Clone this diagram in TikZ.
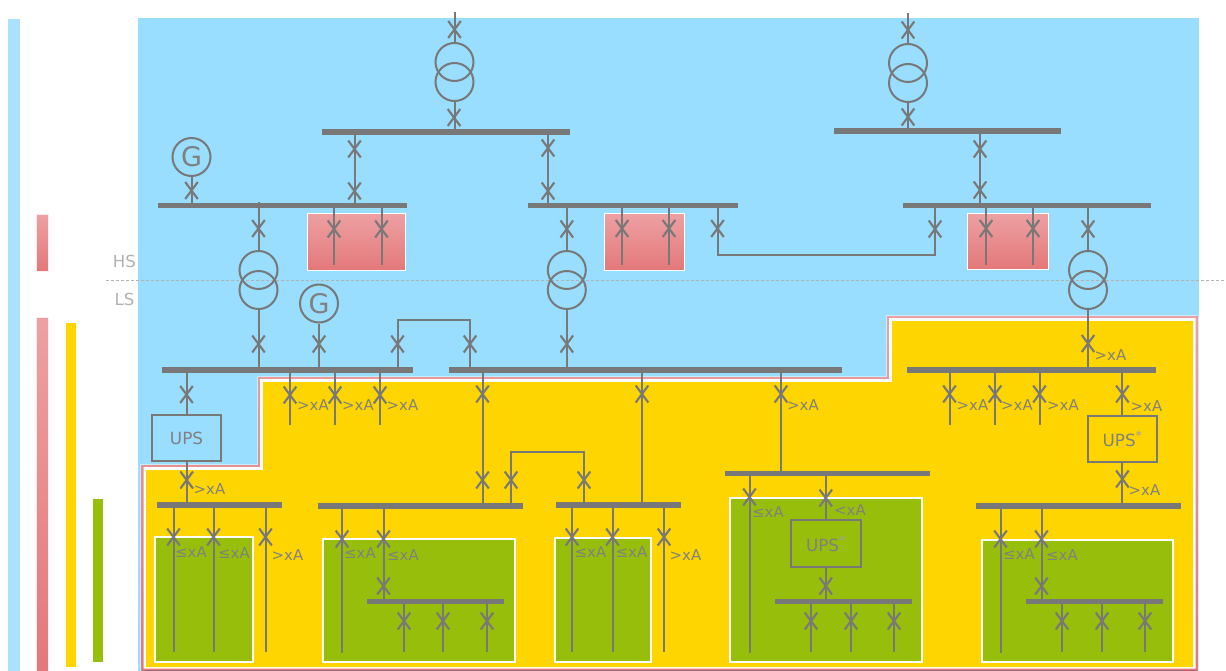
\documentclass[tikz,border=0pt]{standalone}
\usepackage{fontspec}
\setmainfont{DejaVu Sans}
\definecolor{skyc}{HTML}{99DDFF}
\definecolor{skybar}{HTML}{A8E2FF}
\definecolor{redt}{HTML}{EDA0A2}
\definecolor{redb}{HTML}{E4787A}
\definecolor{yell}{HTML}{FFD500}
\definecolor{gren}{HTML}{98BE0C}
\definecolor{wirec}{HTML}{787878}
\definecolor{txtc}{HTML}{808080}
\newcounter{labn}
\tikzset{
  wire/.style={draw=wirec,line width=2pt,line cap=butt},
  brkline/.style={draw=wirec,line width=2.1pt},
  bus/.style={fill=wirec,draw=none,inner sep=0pt,minimum height=5.5pt},
  trafo/.style={circle,draw=wirec,line width=2pt,minimum size=38pt,inner sep=0pt},
  gen/.style={circle,draw=wirec,line width=2pt,minimum size=38pt,inner sep=0pt,text=txtc,font=\fontsize{27}{27}\selectfont},
  upsbox/.style={rectangle,draw=wirec,line width=2pt,inner sep=0pt,text=txtc,font=\fontsize{16.8}{18}\selectfont},
  lbl/.style={anchor=west,inner sep=0pt,text=txtc,font=\fontsize{14.9}{16}\selectfont},
  side/.style={anchor=center,inner sep=0pt,text=black!30,font=\fontsize{16.6}{18}\selectfont},
  legend/.style={draw=red!8,line width=.5pt},
  greenbox/.style={fill=gren,draw=white,line width=2.2pt},
  redbox/.style={top color=redt,bottom color=redb,draw=white,line width=1pt}
}
% breaker symbol
\newcommand{\brk}[2]{\draw[brkline] (#1-6.3,#2-8.5) -- (#1+6.3,#2+8.5) (#1+6.3,#2-8.5) -- (#1-6.3,#2+8.5);}
% vertical wire at x between two named points
\newcommand{\vw}[3]{\draw[wire] (#1,0 |- #2) -- (#1,0 |- #3);}
\newcommand{\lab}[3]{\stepcounter{labn}\node[lbl] (lab\arabic{labn}) at (#1,#2) {#3};}
\newcommand{\busbar}[4]{\node[bus,minimum width=#3-#2] (#1) at ({(#2+#3)/2},#4) {};}
\newcommand{\upsstar}{UPS\raisebox{.35em}{\fontsize{13}{13}\selectfont\textcolor{txtc!75}{*}}}
\begin{document}
\begin{tikzpicture}[x=1pt,y=-1pt]
\useasboundingbox (0,0) rectangle (1226,671);
% backgrounds
\fill[skyc] (138,18) rectangle (1199,671);
\fill[white,opacity=.45] (140,464) -- (257,464) -- (257,376) -- (886,376) -- (886,315) -- (1199,315) -- (1199,671) -- (140,671) -- cycle;
\fill[top color=redt,bottom color=redb] (141.5,465) -- (258,465) -- (258,377) -- (887,377) -- (887,316) -- (1197.5,316) -- (1197.5,670.5) -- (141.5,670.5) -- cycle;
\fill[white] (143.5,467) -- (260,467) -- (260,379) -- (889,379) -- (889,318) -- (1195.5,318) -- (1195.5,668.5) -- (143.5,668.5) -- cycle;
\fill[yell] (146,470) -- (263,470) -- (263,382) -- (892,382) -- (892,321) -- (1193,321) -- (1193,667) -- (146,667) -- cycle;
% legend bars
\fill[skybar] (8,19) rectangle (20,671);
\path[legend,top color=redt,bottom color=redb] (36,214.5) rectangle (48,271);
\path[legend,top color=redt,bottom color=redb] (36,317) rectangle (48,671);
\fill[yell] (65.5,323) rectangle (75.5,667);
\fill[gren] (93,499) rectangle (103,662);
% protected zones
\path[redbox] (307,213.5) rectangle (405.5,270.5);
\path[redbox] (604,213.5) rectangle (684.5,270.5);
\path[redbox] (967.5,213.5) rectangle (1048.5,269.5);
\path[greenbox] (155,537) rectangle (252.7,662);
\path[greenbox] (323,539) rectangle (515,662);
\path[greenbox] (555,538) rectangle (651,662);
\path[greenbox] (730,498) rectangle (922,662);
\path[greenbox] (982,540) rectangle (1173,662);
% voltage boundary
\coordinate (dashL) at (106,280.5);
\coordinate (dashR) at (1226,280.5);
\draw[draw=black!30,line width=.6pt,dash pattern=on 3pt off 2pt] (dashL) -- (dashR);
\node[side] (hs) at (124.5,261) {HS};
\node[side] (ls) at (124.5,299) {LS};
% bars
\busbar{Ba}{322}{570}{132}
\busbar{Bb}{834}{1061}{131}
\busbar{Bc}{158}{407}{205.5}
\busbar{Bd}{528}{738}{205.5}
\busbar{Be}{903}{1151}{205.5}
\busbar{Bf}{162}{413}{370}
\busbar{Bg}{449}{842}{370}
\busbar{Bh}{907}{1156}{370}
\busbar{Bi}{157}{282}{505}
\busbar{Bj}{318}{523}{506}
\busbar{Bk}{556}{681}{505}
\busbar{Bl}{725}{930}{473.5}
\busbar{Bm}{976}{1181}{506}
\busbar{Bn}{367}{504}{601.5}
\busbar{Bo}{775}{912}{601.5}
\busbar{Bp}{1026}{1163}{601.5}
% free ends
\coordinate (topA) at (454.5,12);
\coordinate (topB) at (908,13);
\coordinate (endR) at (0,265);
\coordinate (endH) at (0,425);
\coordinate (endG) at (0,651.5);
\coordinate (endL) at (0,653);
\coordinate (busRise) at (0,202);
% transformers
\node[trafo] (Ta) at (454.5,62) {};
\node[trafo] (Ta2) at (454.5,82) {};
\node[trafo] (Tb) at (908,63) {};
\node[trafo] (Tb2) at (908,83) {};
\node[trafo] (Tc) at (258.5,270) {};
\node[trafo] (Tc2) at (258.5,290) {};
\node[trafo] (Td) at (566.8,270) {};
\node[trafo] (Td2) at (566.8,290) {};
\node[trafo] (Te) at (1088,270) {};
\node[trafo] (Te2) at (1088,290) {};
% generators
\node[gen] (Ga) at (191.5,157) {G};
\node[gen] (Gb) at (319,303.5) {G};
% UPS
\node[upsbox,minimum width=69.5pt,minimum height=46.5pt] (Ua) at (186.5,438) {UPS};
\node[upsbox,minimum width=69.5pt,minimum height=46.5pt] (Ub) at (825.8,543.7) {\upsstar};
\node[upsbox,minimum width=69.5pt,minimum height=46.5pt] (Uc) at (1122.4,439) {\upsstar};
% top section
\draw[wire] (topA) -- (Ta.north); \brk{454.5}{29.5}
\draw[wire] (Ta2.south) -- (Ta2.south |- Ba); \brk{454}{117.5}
\draw[wire] (topB) -- (Tb.north); \brk{908}{30}
\draw[wire] (Tb2.south) -- (Tb2.south |- Bb); \brk{908}{117}
\vw{354.5}{Ba}{Bc} \brk{354.5}{149} \brk{354.5}{191}
\vw{548}{Ba}{Bd} \brk{548}{148} \brk{548}{191}
\vw{980}{Bb}{Be} \brk{980}{149} \brk{980}{190}
\draw[wire] (Ga.south) -- (Ga.south |- Bc); \brk{191.5}{190.5}
% HS feeders
\draw[wire] (Tc.north) -- (Tc.north |- busRise); \brk{258.5}{228.5}
\vw{334}{Bc}{endR} \brk{334}{229}
\vw{381.5}{Bc}{endR} \brk{381.5}{229}
\draw[wire] (Td.north) -- (Td.north |- Bd); \brk{566.8}{229}
\vw{622}{Bd}{endR} \brk{622}{228.5}
\vw{669}{Bd}{endR} \brk{669}{228.5}
\draw[wire] (717.5,0 |- Bd) |- (935,255) -- (935,0 |- Be); \brk{717.5}{228.5} \brk{935}{229}
\vw{986}{Be}{endR} \brk{986}{228.5}
\vw{1033}{Be}{endR} \brk{1033}{228.5}
\draw[wire] (Te.north) -- (Te.north |- Be); \brk{1088}{229}
% LS incomers
\draw[wire] (Tc2.south) -- (Tc2.south |- Bf); \brk{258.5}{344}
\draw[wire] (Td2.south) -- (Td2.south |- Bg); \brk{566.8}{344}
\draw[wire] (Te2.south) -- (Te2.south |- Bh); \brk{1088}{343.5}
\draw[wire] (Gb.south) -- (Gb.south |- Bf); \brk{319}{344}
\draw[wire] (397.5,0 |- Bf) |- (470,319.5) -- (470,0 |- Bg); \brk{397.5}{344} \brk{470}{344}
\lab{1094.5}{355.5}{>xA}
% LS feeders, left bar
\draw[wire] (Ua.north |- Bf) -- (Ua.north); \brk{186.5}{394.5}
\vw{290}{Bf}{endH} \brk{290}{395}
\vw{335}{Bf}{endH} \brk{335}{395}
\vw{380}{Bf}{endH} \brk{380}{395}
\lab{297}{405.5}{>xA}
\lab{342}{405.5}{>xA}
\lab{386.5}{405.5}{>xA}
\draw[wire] (Ua.south) -- (Ua.south |- Bi); \brk{186.7}{480}
\lab{193.5}{489.5}{>xA}
\vw{173.5}{Bi}{endG} \brk{173.5}{537}
\vw{213.5}{Bi}{endG} \brk{213.5}{537}
\vw{265.5}{Bi}{endG} \brk{265.5}{537}
\lab{175}{552.5}{≤xA}
\lab{218}{553}{≤xA}
\lab{271.5}{555}{>xA}
% middle bar
\vw{482.5}{Bg}{Bj} \brk{482.5}{394} \brk{482.5}{480}
\vw{642}{Bg}{Bk} \brk{642}{394}
\vw{781}{Bg}{Bl} \brk{781}{394}
\lab{787}{405.5}{>xA}
\draw[wire] (511,0 |- Bj) |- (584,452) -- (584,0 |- Bk); \brk{511}{480} \brk{584}{480}
% Bj group
\vw{342}{Bj}{endL} \brk{342}{539}
\vw{383.5}{Bj}{Bn} \brk{383.5}{539} \brk{383.5}{586}
\lab{344}{553.5}{≤xA}
\lab{387}{555.5}{≤xA}
\vw{404}{Bn}{endG} \brk{404}{621}
\vw{443}{Bn}{endG} \brk{443}{621}
\vw{487}{Bn}{endG} \brk{487}{621}
% Bk group
\vw{572}{Bk}{endG} \brk{572}{537}
\vw{612.5}{Bk}{endG} \brk{612.5}{537}
\vw{664}{Bk}{endG} \brk{664}{537}
\lab{574.5}{552.5}{≤xA}
\lab{615.5}{552.5}{≤xA}
\lab{669.5}{555}{>xA}
% Bl group
\vw{749.5}{Bl}{endL} \brk{749.5}{497}
\draw[wire] (Ub.north |- Bl) -- (Ub.north); \brk{825.8}{498}
\lab{752}{512.5}{≤xA}
\lab{834}{510.5}{<xA}
\draw[wire] (Ub.south) -- (Ub.south |- Bo); \brk{825.8}{586}
\vw{811}{Bo}{endG} \brk{811}{621}
\vw{851}{Bo}{endG} \brk{851}{621}
\vw{894}{Bo}{endG} \brk{894}{621}
% right bar
\vw{949.5}{Bh}{endH} \brk{949.5}{394}
\vw{995}{Bh}{endH} \brk{995}{394}
\vw{1039.5}{Bh}{endH} \brk{1039.5}{394}
\lab{956.5}{405.5}{>xA}
\lab{1001}{405.5}{>xA}
\lab{1047}{405.5}{>xA}
\draw[wire] (Uc.north |- Bh) -- (Uc.north); \brk{1122.4}{394}
\lab{1130.5}{406}{>xA}
\draw[wire] (Uc.south) -- (Uc.south |- Bm); \brk{1122.4}{479}
\lab{1128.5}{490}{>xA}
\vw{1000.5}{Bm}{endL} \brk{1000.5}{539}
\vw{1041.5}{Bm}{Bp} \brk{1041.5}{539} \brk{1041.5}{586}
\lab{1003}{554}{≤xA}
\lab{1046}{555.5}{≤xA}
\vw{1062}{Bp}{endG} \brk{1062}{621}
\vw{1102}{Bp}{endG} \brk{1102}{621}
\vw{1145}{Bp}{endG} \brk{1145}{621}
\end{tikzpicture}
\end{document}
